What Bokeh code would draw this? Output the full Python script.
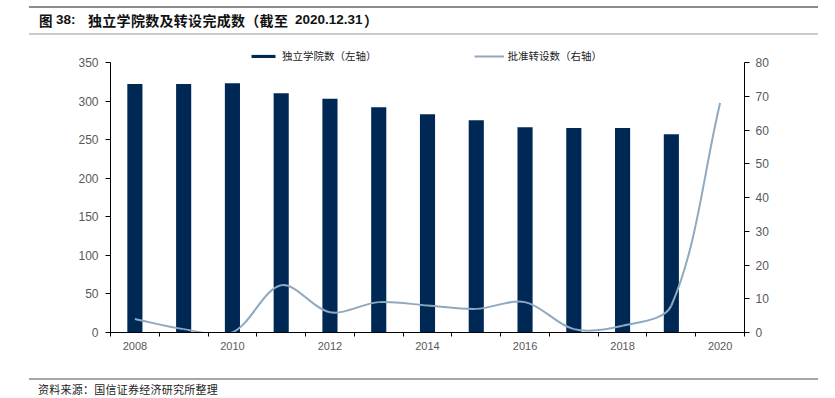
from bokeh.plotting import figure
from bokeh.models import (Range1d, LinearAxis, FixedTicker, Legend, LegendItem,
                          ColumnDataSource, Div)
from bokeh.layouts import column
from bokeh.embed import file_html
from bokeh.resources import INLINE

# ---- data ----
years = [2008, 2009, 2010, 2011, 2012, 2013, 2014, 2015, 2016, 2017, 2018, 2019, 2020]
bar_years = [2008, 2009, 2010, 2011, 2012, 2013, 2014, 2015, 2016, 2017, 2018, 2019]
colleges = [322, 322, 323, 310, 303, 292, 283, 275, 266, 265, 265, 257]
converted = [4, 1, 0, 14, 6, 9, 8, 7, 9, 1, 2, 8, 68]
left_ticks = [0, 50, 100, 150, 200, 250, 300, 350]
right_ticks = [0, 10, 20, 30, 40, 50, 60, 70, 80]
year_labels = [2008, 2010, 2012, 2014, 2016, 2018, 2020]

title_parts = ["图", "38:", "独立学院数及转设完成数（截至", "2020.12.31", "）"]
legend_bar = "独立学院数（左轴）"
legend_line = "批准转设数（右轴）"
source_text = "资料来源：国信证券经济研究所整理"

BAR = "#002855"
LINE = "#8FA9C0"
CJK = "Noto Sans CJK SC"
LAT = "Liberation Sans"

# ---- layout sizes ----
PAGE_W = 835
TITLE_H = 36
FOOT_H = 29
FIG_H = 332
FL, FR, FT, FB = 110, 91, 0, 36
FRAME_W = PAGE_W - FL - FR          # 634 px
FRAME_H = FIG_H - FT - FB           # 296 px
AXIS_H = 270                        # px from 0 to the top tick
y_top_left = left_ticks[-1] * FRAME_H / AXIS_H
y_top_right = right_ticks[-1] * FRAME_H / AXIS_H
X0, X1 = years[0] - 0.5, years[-1] + 0.5
px_x = FRAME_W / (X1 - X0)
px_y = AXIS_H / right_ticks[-1]

# ---- title (HTML) ----
segs = [(39, CJK, 13.5, 0), (56, LAT, 13.5, 0), (88, CJK, 14, 0.3), (295, LAT, 13.5, 0), (364, CJK, 14, 0)]
spans = "".join(
    f'<div style="position:absolute;left:{x}px;top:11px;line-height:18px;height:18px;'
    f"font-family:'{f}';font-size:{s}px;letter-spacing:{ls}px;font-weight:bold;color:#111;"
    f'white-space:nowrap;">{t}</div>'
    for t, (x, f, s, ls) in zip(title_parts, segs))
title_html = (
    f'<div style="position:relative;width:{PAGE_W}px;height:{TITLE_H}px;">'
    '<div style="position:absolute;left:29px;top:6px;width:789px;height:2px;background:#8c8c8c;"></div>'
    + spans +
    '<div style="position:absolute;left:29px;top:33px;width:789px;height:2px;background:#cccccc;"></div>'
    '</div>')
title_div = Div(text=title_html, width=PAGE_W, height=TITLE_H, margin=0)

# ---- footer (HTML) ----
foot_html = (
    f'<div style="position:relative;width:{PAGE_W}px;height:{FOOT_H}px;">'
    '<div style="position:absolute;left:29px;top:10px;width:789px;height:2px;background:#a6a6a6;"></div>'
    f"<div style=\"position:absolute;left:38px;top:14px;line-height:14px;font-family:'{CJK}';"
    f'font-size:11px;letter-spacing:0.25px;color:#222;white-space:nowrap;">{source_text}</div>'
    '</div>')
foot_div = Div(text=foot_html, width=PAGE_W, height=FOOT_H, margin=0)

# ---- chart ----
p = figure(width=PAGE_W, height=FIG_H, output_backend="svg", toolbar_location=None,
           x_range=Range1d(X0, X1), y_range=Range1d(0, y_top_left),
           min_border_left=FL, min_border_right=FR, min_border_top=FT, min_border_bottom=FB,
           x_axis_location=None, y_axis_location=None, margin=0)
p.extra_y_ranges = {"right": Range1d(0, y_top_right)}
p.outline_line_color = None
p.xgrid.visible = False
p.ygrid.visible = False
p.background_fill_color = "white"
p.border_fill_color = "white"

def style_axis(ax, size):
    ax.axis_line_color = "black"
    ax.major_tick_line_color = "black"
    ax.major_tick_in = 0
    ax.major_tick_out = 5
    ax.minor_tick_line_color = None
    ax.major_label_text_font = LAT
    ax.major_label_text_font_size = size
    ax.major_label_text_color = "#595959"

ly = LinearAxis(ticker=FixedTicker(ticks=left_ticks), bounds=(left_ticks[0], left_ticks[-1]))
style_axis(ly, "12px")
ly.major_label_standoff = 7
p.add_layout(ly, "left")

ry = LinearAxis(y_range_name="right", ticker=FixedTicker(ticks=right_ticks),
                bounds=(right_ticks[0], right_ticks[-1]))
style_axis(ry, "12px")
ry.major_label_standoff = 6
p.add_layout(ry, "right")

bx = LinearAxis(ticker=FixedTicker(ticks=year_labels,
                                   minor_ticks=[y - 0.5 for y in years] + [years[-1] + 0.5]))
style_axis(bx, "11px")
bx.major_tick_line_color = None
bx.major_tick_out = 4
bx.minor_tick_line_color = "black"
bx.minor_tick_in = 0
bx.minor_tick_out = 4
bx.major_label_standoff = 5
p.add_layout(bx, "below")

bars = p.vbar(x=bar_years, top=colleges, width=0.31, fill_color=BAR, line_color=None)

# smoothed line: cubic Bezier segments through the data points, tangents weighted
# by on-screen segment lengths (as office-chart smoothing does)
n = len(years)
def dist(i, j):
    return (((years[j] - years[i]) * px_x) ** 2 + ((converted[j] - converted[i]) * px_y) ** 2) ** 0.5

def tangent(i):
    a, c = max(i - 1, 0), min(i + 1, n - 1)
    return years[c] - years[a], converted[c] - converted[a], dist(a, i), dist(i, c)

seg = {k: [] for k in ("x0", "y0", "x1", "y1", "cx0", "cy0", "cx1", "cy1")}
for i in range(n - 1):
    tx, ty, dp, dn = tangent(i)
    f_out = dn / (dp + dn) / 3 if (dp + dn) else 0
    ux, uy, up, un = tangent(i + 1)
    f_in = up / (up + un) / 3 if (up + un) else 0
    seg["x0"].append(years[i]); seg["y0"].append(converted[i])
    seg["x1"].append(years[i + 1]); seg["y1"].append(converted[i + 1])
    seg["cx0"].append(years[i] + tx * f_out); seg["cy0"].append(converted[i] + ty * f_out)
    seg["cx1"].append(years[i + 1] - ux * f_in); seg["cy1"].append(converted[i + 1] - uy * f_in)
curve = p.bezier(x0="x0", y0="y0", x1="x1", y1="y1", cx0="cx0", cy0="cy0", cx1="cx1", cy1="cy1",
                 source=ColumnDataSource(seg), line_color=LINE, line_width=2, y_range_name="right")

legend = Legend(items=[LegendItem(label=legend_bar, renderers=[bars]),
                       LegendItem(label=legend_line, renderers=[curve])],
                orientation="horizontal", location=(138, 269),
                glyph_width=30, glyph_height=4, label_height=11, label_standoff=4,
                spacing=97, padding=1, margin=0,
                label_text_font=CJK, label_text_font_size="10.5px", label_text_color="#222222",
                border_line_color=None, background_fill_alpha=0)
p.add_layout(legend)

layout = column(title_div, p, foot_div, spacing=0, margin=0)
open("out.html", "w").write(file_html(layout, INLINE))
